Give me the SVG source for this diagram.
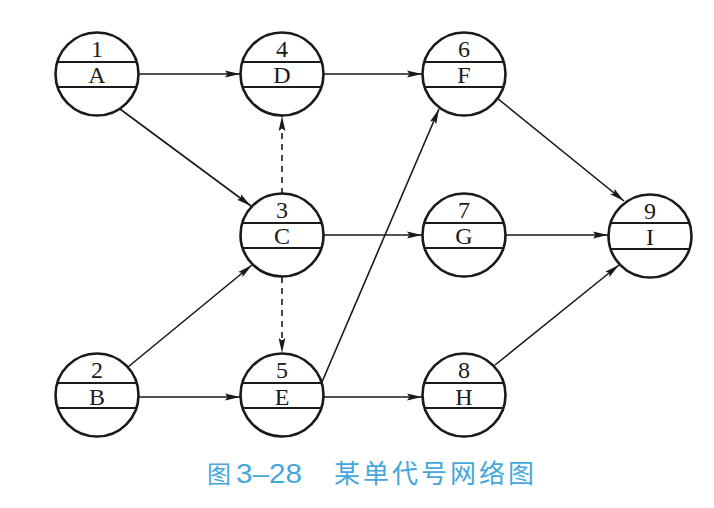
<svg xmlns="http://www.w3.org/2000/svg" width="714" height="508" viewBox="0 0 714 508">
<defs>
<marker id="ah" viewBox="0 0 15 8" refX="15" refY="4" markerWidth="15" markerHeight="8" markerUnits="userSpaceOnUse" orient="auto">
<path d="M0,0.6 L15,4 L0,7.4 L2.5,4 Z" fill="#1a1a1a"/>
</marker>
</defs>
<style>
.ring{fill:#fff;stroke:#1a1a1a;stroke-width:2.6}
.bar{stroke:#1a1a1a;stroke-width:2}
.num,.lab{font-family:"Liberation Serif","DejaVu Serif",serif;font-size:24px;fill:#1a1a1a;text-anchor:middle}
.e{stroke:#1a1a1a;stroke-width:1.6;fill:none;marker-end:url(#ah)}
.d{stroke-dasharray:6 5}
.cap{font-size:26px;fill:#45a7dc}
</style>
<rect width="714" height="508" fill="#fff"/>
<g id="connectors">
<line class="e" x1="138" y1="74" x2="240" y2="74"/>
<line class="e" x1="323" y1="74" x2="422" y2="74"/>
<line class="e" x1="120" y1="109" x2="251" y2="206"/>
<line class="e d" x1="282" y1="194" x2="282" y2="116"/>
<line class="e d" x1="282" y1="277" x2="282" y2="353"/>
<line class="e" x1="128" y1="367" x2="252" y2="265"/>
<line class="e" x1="323" y1="235" x2="422" y2="235"/>
<line class="e" x1="322" y1="382" x2="439" y2="109"/>
<line class="e" x1="139" y1="397" x2="240" y2="397"/>
<line class="e" x1="323" y1="397" x2="422" y2="397"/>
<line class="e" x1="497" y1="98" x2="624" y2="201"/>
<line class="e" x1="505" y1="235" x2="608" y2="235"/>
<line class="e" x1="495" y1="365" x2="619" y2="265"/>
</g>
<g id="n1"><circle class="ring" cx="97" cy="74" r="41.5"/><line class="bar" x1="58" y1="62" x2="136" y2="62"/><line class="bar" x1="58" y1="87" x2="136" y2="87"/><text class="num" x="97" y="57">1</text><text class="lab" x="97" y="83">A</text></g>
<g id="n4"><circle class="ring" cx="282" cy="74" r="41.5"/><line class="bar" x1="243" y1="62" x2="321" y2="62"/><line class="bar" x1="243" y1="87" x2="321" y2="87"/><text class="num" x="282" y="57">4</text><text class="lab" x="282" y="83">D</text></g>
<g id="n6"><circle class="ring" cx="464" cy="74" r="41.5"/><line class="bar" x1="425" y1="62" x2="503" y2="62"/><line class="bar" x1="425" y1="87" x2="503" y2="87"/><text class="num" x="464" y="57">6</text><text class="lab" x="464" y="83">F</text></g>
<g id="n3"><circle class="ring" cx="282" cy="235" r="41.5"/><line class="bar" x1="243" y1="223" x2="321" y2="223"/><line class="bar" x1="243" y1="248" x2="321" y2="248"/><text class="num" x="282" y="218">3</text><text class="lab" x="282" y="244">C</text></g>
<g id="n7"><circle class="ring" cx="464" cy="235" r="41.5"/><line class="bar" x1="425" y1="223" x2="503" y2="223"/><line class="bar" x1="425" y1="248" x2="503" y2="248"/><text class="num" x="464" y="218">7</text><text class="lab" x="464" y="244">G</text></g>
<g id="n9"><circle class="ring" cx="650" cy="236" r="41.5"/><line class="bar" x1="611" y1="223" x2="689" y2="223"/><line class="bar" x1="611" y1="249" x2="689" y2="249"/><text class="num" x="650" y="219">9</text><text class="lab" x="650" y="245">I</text></g>
<g id="n2"><circle class="ring" cx="97" cy="395" r="41.5"/><line class="bar" x1="58" y1="383" x2="136" y2="383"/><line class="bar" x1="58" y1="408" x2="136" y2="408"/><text class="num" x="97" y="378">2</text><text class="lab" x="97" y="405">B</text></g>
<g id="n5"><circle class="ring" cx="282" cy="395" r="41.5"/><line class="bar" x1="243" y1="383" x2="321" y2="383"/><line class="bar" x1="243" y1="408" x2="321" y2="408"/><text class="num" x="282" y="378">5</text><text class="lab" x="282" y="405">E</text></g>
<g id="n8"><circle class="ring" cx="464" cy="395" r="41.5"/><line class="bar" x1="425" y1="383" x2="503" y2="383"/><line class="bar" x1="425" y1="408" x2="503" y2="408"/><text class="num" x="464" y="378">8</text><text class="lab" x="464" y="405">H</text></g>
<g id="caption">
<text class="cap" x="207" y="483" style="font-family:'Noto Sans CJK SC',sans-serif;font-size:24px">图</text>
<text class="cap" x="236" y="483" textLength="66" lengthAdjust="spacingAndGlyphs" style="font-family:'Liberation Sans',sans-serif;font-size:27px">3–28</text>
<text class="cap" x="334" y="483" style="font-family:'Noto Sans CJK SC',sans-serif;letter-spacing:3px">某单代号网络图</text>
</g>
</svg>
